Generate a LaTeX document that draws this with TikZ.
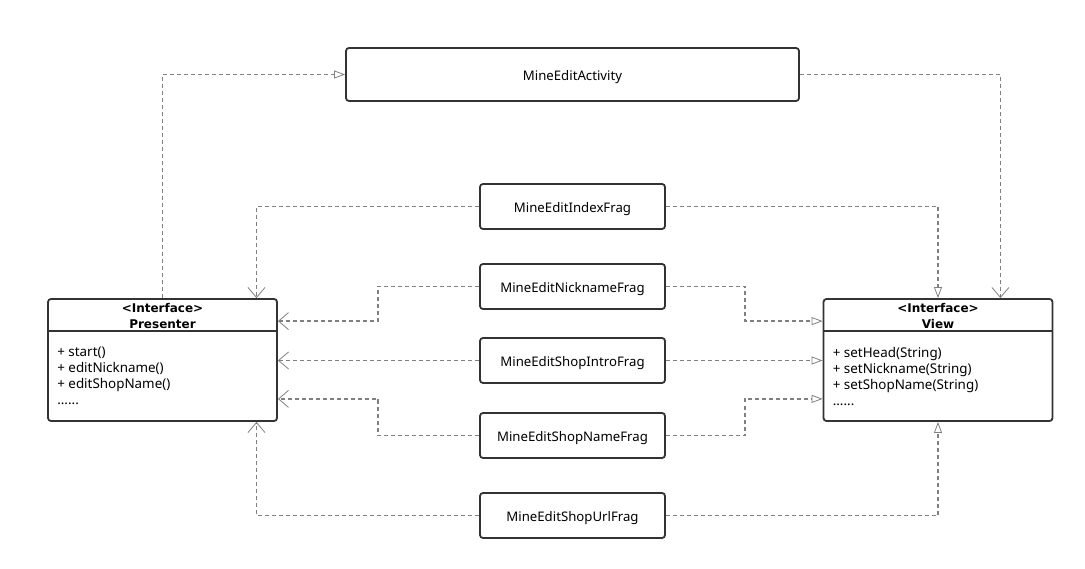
\documentclass[tikz,border=0pt]{standalone}
\usepackage{fontspec}
\setmainfont{Noto Sans}
\newfontfamily\headfont{DejaVu Sans}
\usetikzlibrary{arrows.meta}
\usetikzlibrary{positioning}

\begin{document}
\begin{tikzpicture}[x=1pt, y=-1pt,
		box/.style={draw=black!80, line width=1.8pt, rounded corners=3pt, inner sep=0pt, font=\fontsize{13.2}{15}\selectfont, text height=13pt, text depth=1pt},
		frag/.style={box, minimum width=185pt, minimum height=45pt},
		classbox/.style={box, minimum width=229pt, minimum height=122pt},
		link/.style={draw=black!50, line width=1.5pt, dash pattern=on 4pt off 3pt},
		impl/.style={link, -{Triangle[open, length=11pt, width=8pt, line width=0.8pt]}},
		uses/.style={link, -{Straight Barb[length=10pt, width=17pt, line width=0.8pt]}},
	]
		\useasboundingbox (0,0) rectangle (1085,569);

		% Activity and fragments
		\node[box, minimum width=453pt, minimum height=53pt] (activity) at (572.5,74.5) {MineEditActivity};
		\node[frag] (index) at (572.5,206.5) {MineEditIndexFrag};
		\node[frag] (nick)  at (572.5,286.5) {MineEditNicknameFrag};
		\node[frag] (intro) at (572.5,360.5) {MineEditShopIntroFrag};
		\node[frag] (shop)  at (572.5,435.5) {MineEditShopNameFrag};
		\node[frag] (url)   at (572.5,515.5) {MineEditShopUrlFrag};

		% Interfaces
		\newcommand{\interfaceBox}[4]{
			% #1: node name, #2: centre, #3: title, #4: members
			\node[classbox] (#1) at (#2) {};
			\draw[line width=1.8pt, black!80] ([yshift=-33pt]#1.north west) -- ([yshift=-33pt]#1.north east);
			\node[font=\headfont\fontsize{12}{16}\selectfont\bfseries, align=center, inner sep=0pt] (#1title) at ([yshift=-17.5pt]#1.north) {<Interface>\\#3};
			\node[font=\fontsize{13.4}{16}\selectfont, align=left, anchor=north west, inner sep=0pt] (#1body) at ([xshift=10pt, yshift=-49pt]#1.north west) {#4};
		}
		\interfaceBox{presenter}{162.5,360}{Presenter}{+ start()\\+ editNickname()\\+ editShopName()\\......}
		\interfaceBox{view}{938,360}{View}{+ setHead(String)\\+ setNickname(String)\\+ setShopName(String)\\......}

		% Left side
		\draw[impl] (presenter.north) |- (activity.west);
		\draw[uses] (index.west) -| ([xshift=94pt]presenter.north);
		\draw[uses] (nick.west) -- ++(-101,0) |- ([yshift=-23pt]presenter.north east);
		\draw[uses] (intro.west) -- (intro.west -| presenter.east);
		\draw[uses] (shop.west) -- ++(-101,0) |- ([yshift=23pt]presenter.south east);
		\draw[uses] (url.west) -| ([xshift=94pt]presenter.south);

		% Right side
		\draw[uses] (activity.east) -| ([xshift=-53pt]view.north east);
		\draw[impl] (index.east) -| (view.north);
		\draw[impl] (nick.east) -- ++(79,0) |- ([yshift=-23pt]view.north west);
		\draw[impl] (intro.east) -- (intro.east -| view.west);
		\draw[impl] (shop.east) -- ++(79,0) |- ([yshift=23pt]view.south west);
		\draw[impl] (url.east) -| (view.south);

	\end{tikzpicture}
\end{document}
